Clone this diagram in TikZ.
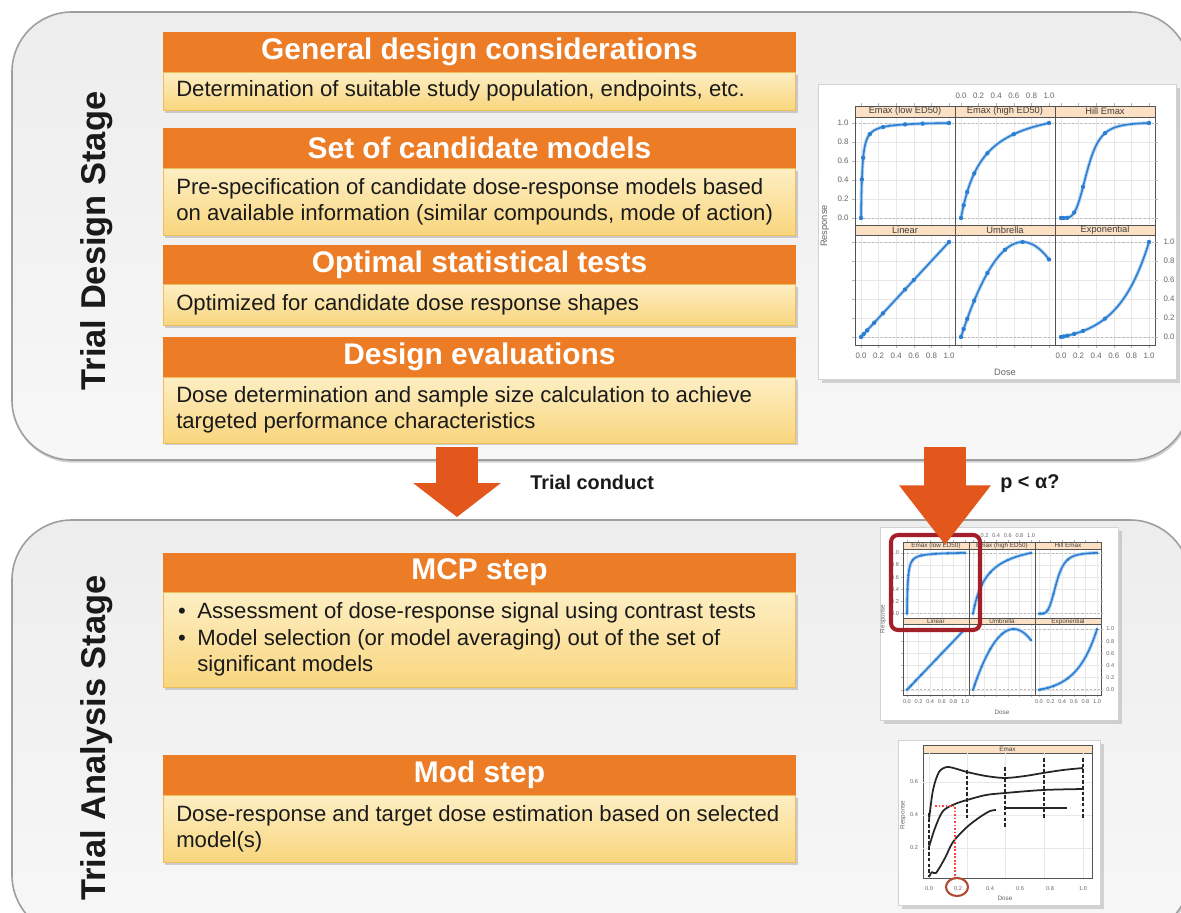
\documentclass[tikz,border=0pt]{standalone}
\usepackage{fontspec}
\setmainfont{Liberation Sans}
\usetikzlibrary{shadows,arrows.meta}
\definecolor{hdrorange}{HTML}{EC7C26}
\definecolor{bodytop}{HTML}{FDEEC3}
\definecolor{bodybot}{HTML}{F9D67E}
\definecolor{bodyedge}{HTML}{EDBF5C}
\definecolor{arrowred}{HTML}{E3561C}
\definecolor{panelline}{HTML}{9E9E9E}
\definecolor{panelTop}{HTML}{EDEDED}
\definecolor{panelBot}{HTML}{F7F7F7}
\definecolor{textdark}{HTML}{1A1A1A}
\definecolor{curveblue}{HTML}{2B7FD2}
\definecolor{stripfill}{HTML}{FCE0C4}
\definecolor{markred}{HTML}{A3202A}
\definecolor{circred}{HTML}{B04A30}

\newcommand\pcurve[4]{%
  \draw[curveglow] plot[domain=0:1,samples=200] ({#1+88*\x},{#2-95*(#3)});
  \draw[curve] plot[domain=0:1,samples=200] ({#1+88*\x},{#2-95*(#3)});
  \foreach \x in {#4} \fill[curveblue] ({#1+88*\x},{#2-95*(#3)}) circle[radius=2.2];
}

\newcommand\lattice[3]{%
  \foreach \c in {0,100,200}{
    \fill[white] (\c,0) rectangle (\c+100,239);
    \fill[stripfill] (\c,0) rectangle (\c+100,11);
    \fill[stripfill] (\c,119) rectangle (\c+100,129);
    \foreach \d in {0,0.2,0.4,0.6,0.8,1}{
      \draw[gridl] (\c+6+88*\d,11) -- (\c+6+88*\d,119);
      \draw[gridl] (\c+6+88*\d,129) -- (\c+6+88*\d,239);
      \draw[tickl] (\c+6+88*\d,0) -- (\c+6+88*\d,-3);
      \draw[tickl] (\c+6+88*\d,239) -- (\c+6+88*\d,242);
    }
    \foreach \r in {0,0.2,0.4,0.6,0.8,1}{
      \draw[gridl] (\c,112-95*\r) -- (\c+100,112-95*\r);
      \draw[gridl] (\c,231-95*\r) -- (\c+100,231-95*\r);
    }
    \foreach \yy in {17,112,136,231} \draw[refl] (\c,\yy) -- (\c+100,\yy);
    \draw[pborder] (\c,0) rectangle (\c+100,239);
    \draw[pborder] (\c,11) -- (\c+100,11);
    \draw[pborder] (\c,119) -- (\c+100,119);
    \draw[pborder] (\c,129) -- (\c+100,129);
  }
  \foreach \r in {0,0.2,0.4,0.6,0.8,1}{
    \draw[tickl] (0,112-95*\r) -- (-3,112-95*\r);
    \draw[tickl] (0,231-95*\r) -- (-3,231-95*\r);
    \draw[tickl] (300,112-95*\r) -- (303,112-95*\r);
    \draw[tickl] (300,231-95*\r) -- (303,231-95*\r);
  }
  \pcurve{6}{112}{\x*1.015/(\x+0.015)}{0,0.01,0.025,0.1,0.25,0.5,0.7,1}
  \pcurve{106}{112}{\x*1.25/(\x+0.25)}{0,0.03,0.07,0.15,0.3,0.6,1}
  \pcurve{206}{112}{\x*\x*\x*\x*1.0081/(\x*\x*\x*\x+0.0081)}{0,0.03,0.07,0.15,0.25,0.5,1}
  \pcurve{6}{231}{\x}{0,0.03,0.07,0.15,0.25,0.5,0.6,1}
  \pcurve{106}{231}{\x*(1.4-\x)/0.49}{0,0.03,0.07,0.15,0.3,0.5,0.7,1}
  \pcurve{206}{231}{(exp(\x/0.35)-1)/(exp(1/0.35)-1)}{0,0.03,0.07,0.15,0.25,0.5,1}
  \node[striptxt,font=#2] (#3s1) at (50,5.5) {Emax (low ED50)};
  \node[striptxt,font=#2] (#3s2) at (150,5.5) {Emax (high ED50)};
  \node[striptxt,font=#2] (#3s3) at (250,5.5) {Hill Emax};
  \node[striptxt,font=#2] (#3s4) at (50,124) {Linear};
  \node[striptxt,font=#2] (#3s5) at (150,124) {Umbrella};
  \node[striptxt,font=#2] (#3s6) at (250,124) {Exponential};
  \foreach \r/\t [count=\i] in {0/0.0,0.2/0.2,0.4/0.4,0.6/0.6,0.8/0.8,1/1.0}{
    \node[ticktxt,font=#1] (#3l\i) at (-12,112-95*\r) {\t};
    \node[ticktxt,font=#1] (#3r\i) at (314,231-95*\r) {\t};
    \node[ticktxt,font=#1] (#3t\i) at (106+88*\r,-10) {\t};
    \node[ticktxt,font=#1] (#3a\i) at (6+88*\r,250) {\t};
    \node[ticktxt,font=#1] (#3b\i) at (206+88*\r,250) {\t};
  }
  \node[ticktxt,font=#2] (#3dose) at (150,266) {Dose};
  \node[ticktxt,font=#2,rotate=90] (#3resp) at (-30,120) {Response};
}

\begin{document}
\begin{tikzpicture}[x=0.02cm,y=-0.02cm,
  panel/.style={draw=panelline,line width=0.9pt,rounded corners=34pt,top color=panelTop,bottom color=panelBot,
    drop shadow={shadow xshift=0.5pt,shadow yshift=-1.5pt,opacity=0.35}},
  hdr/.style={rectangle,fill=hdrorange,text=white,minimum width=360pt,inner sep=0pt,
    font=\fontsize{17pt}{20pt}\selectfont\bfseries},
  bodybox/.style={rectangle,top color=bodytop,bottom color=bodybot,draw=bodyedge,line width=0.4pt,
    minimum width=360pt,inner sep=0pt,drop shadow={shadow xshift=1pt,shadow yshift=-1.5pt,opacity=0.35}},
  bodytxt/.style={anchor=west,align=left,inner sep=0pt,text=textdark,font=\fontsize{12.6pt}{15pt}\selectfont},
  stage/.style={rotate=90,inner sep=0pt,text=textdark,font=\fontsize{19.6pt}{22pt}\selectfont\bfseries},
  lbl/.style={anchor=west,inner sep=0pt,text=textdark,font=\fontsize{11.3pt}{13pt}\selectfont\bfseries},
  bigarrow/.style 2 args={draw=arrowred,line width=23.4pt,-{Triangle[width=#1,length=#2]}},
  plotframe/.style={fill=white,draw=gray!35,line width=0.4pt,drop shadow={shadow xshift=2pt,shadow yshift=-2pt,opacity=0.3}},
  gridl/.style={draw=gray!18,line width=0.25pt},
  tickl/.style={draw=gray!60,line width=0.25pt},
  refl/.style={draw=gray!55,line width=0.4pt,dash pattern=on 1.2pt off 1.2pt},
  pborder/.style={draw=gray!65!black,line width=0.35pt},
  curve/.style={draw=curveblue,line width=0.9pt,line join=round},
  curveglow/.style={draw=curveblue!35,line width=2pt,line join=round},
  striptxt/.style={inner sep=0pt,text=black!75},
  ticktxt/.style={inner sep=0pt,text=black!60},
  blackc/.style={draw=black!85,line width=1pt,line join=round},
  vdash/.style={draw=black!85,line width=1pt,dash pattern=on 2pt off 1.2pt},
  reddot/.style={draw=red!75,line width=0.6pt,dash pattern=on 1pt off 1pt}
]
\useasboundingbox (0,0) rectangle (1181,913);
\clip (0,0) rectangle (1181,913);
\fill[white] (0,0) rectangle (1181,913);

% stage panels
\draw[panel] (12,12) rectangle (1190,460);
\draw[panel] (12,520) rectangle (1190,935);

\node[stage] (s1) at (97,241) {Trial Design Stage};
\node[stage] (s2) at (97,738) {Trial Analysis Stage};

% design stage boxes
\node[bodybox,minimum height=21.5pt] (b1) at (479.5,91) {};
\node[hdr,minimum height=22.7pt] (h1) at (479.5,52) {General design considerations};
\node[bodytxt] (t1) at ([xshift=7.4pt]b1.west) {Determination of suitable study population, endpoints, etc.};

\node[bodybox,minimum height=38pt] (b2) at (479.5,201.5) {};
\node[hdr,minimum height=22.7pt] (h2) at (479.5,148) {Set of candidate models};
\node[bodytxt] (t2) at ([xshift=7.4pt]b2.west) {Pre-specification of candidate dose-response models based\\on available information (similar compounds, mode of action)};

\node[bodybox,minimum height=23.2pt] (b3) at (479.5,304.5) {};
\node[hdr,minimum height=22.2pt] (h3) at (479.5,264.5) {Optimal statistical tests};
\node[bodytxt] (t3) at ([xshift=7.4pt]b3.west) {Optimized for candidate dose response shapes};

\node[bodybox,minimum height=37.4pt] (b4) at (479.5,410) {};
\node[hdr,minimum height=22.7pt] (h4) at (479.5,357) {Design evaluations};
\node[bodytxt] (t4) at ([xshift=7.4pt]b4.west) {Dose determination and sample size calculation to achieve\\targeted performance characteristics};

% analysis stage boxes
\node[bodybox,minimum height=54.4pt] (b5) at (479.5,640) {};
\node[hdr,minimum height=22.2pt] (h5) at (479.5,572.5) {MCP step};
\node[bodytxt] (t5) at ([xshift=8.5pt]b5.west) {\begin{tabular}{@{}l@{\hspace{6.5pt}}l@{}}
•&Assessment of dose-response signal using contrast tests\\
•&Model selection (or model averaging) out of the set of\\
&significant models\end{tabular}};

\node[bodybox,minimum height=38pt] (b6) at (479.5,828.5) {};
\node[hdr,minimum height=22.7pt] (h6) at (479.5,775) {Mod step};
\node[bodytxt] (t6) at ([xshift=7.4pt]b6.west) {Dose-response and target dose estimation based on selected\\model(s)};

% plot 1 (candidate models)
\draw[plotframe] (818,84) rectangle (1176,379);
\begin{scope}[shift={(855,106)}]
  \lattice{\fontsize{4.5pt}{5pt}\selectfont}{\fontsize{5.3pt}{6pt}\selectfont}{pa}
\end{scope}

% plot 2 (MCP)
\draw[plotframe] (880,527) rectangle (1118,720);
\begin{scope}[shift={(903,542)},xscale=0.66,yscale=0.64]
  \lattice{\fontsize{3.2pt}{4pt}\selectfont}{\fontsize{3.6pt}{4pt}\selectfont}{pb}
\end{scope}
\draw[draw=markred,line width=2.3pt,rounded corners=4pt] (891,535) rectangle (980,630);

% plot 3 (Mod)
\draw[plotframe] (898,740) rectangle (1100,905);
\fill[stripfill] (923,745) rectangle (1092,753);
\draw[pborder] (923,745) rectangle (1092,878);
\draw[pborder] (923,753) -- (1092,753);
\node[striptxt,font=\fontsize{3.6pt}{4pt}\selectfont] (pcs) at (1007.5,749) {Emax};
\foreach \xx in {929,967,1005,1044,1083} \draw[gridl] (\xx,753) -- (\xx,878);
\foreach \yy in {782,815,848} \draw[gridl] (923,\yy) -- (1092,\yy);
\draw[blackc] plot[smooth] coordinates {(929,820) (933,790) (939,772) (947,767) (957,769) (967,772) (986,776) (1005,778) (1025,776) (1043,773) (1063,770) (1083,768)};
\draw[blackc] plot[smooth] coordinates {(929,847) (935,828) (943,811) (955,804) (967,800) (986,795) (1005,793) (1043,790) (1083,789)};
\draw[blackc] plot[smooth] coordinates {(929,877) (932,872) (936,873) (945,858) (953,842) (967,827) (980,817) (990,811) (996,810)};
\draw[blackc] (1005,808) -- (1067,808);
\draw[vdash] (929,813) -- (929,877);
\draw[vdash] (967,770) -- (967,820);
\draw[vdash] (1005,767) -- (1005,827);
\draw[vdash] (1044,758) -- (1044,818);
\draw[vdash] (1083,758) -- (1083,818);
\draw[reddot] (935,806) -- (955,806) -- (955,878);
\foreach \xx/\t [count=\i] in {929/0.0,958/0.2,990/0.4,1020/0.6,1050/0.8,1083/1.0}
  \node[ticktxt,font=\fontsize{3.2pt}{4pt}\selectfont] (pcx\i) at (\xx,889) {\t};
\foreach \yy/\t [count=\i] in {782/0.6,815/0.4,848/0.2}
  \node[ticktxt,font=\fontsize{3.2pt}{4pt}\selectfont] (pcy\i) at (914,\yy) {\t};
\node[ticktxt,font=\fontsize{3.6pt}{4pt}\selectfont] (pcdose) at (1005,898) {Dose};
\node[ticktxt,font=\fontsize{3.6pt}{4pt}\selectfont,rotate=90] (pcresp) at (903,815) {Response};
\draw[draw=circred,line width=1.2pt] (957,887) ellipse[x radius=11,y radius=9];

% arrows between stages
\coordinate (a1s) at (457,447);
\coordinate (a1e) at (457,517);
\coordinate (a2s) at (945,447);
\coordinate (a2e) at (945,545);
\draw[bigarrow={48.8pt}{19.3pt}] (a1s) -- (a1e);
\draw[bigarrow={50pt}{34pt}] (a2s) -- (a2e);
\node[lbl] (tc) at (530,482) {Trial conduct};
\node[lbl] (pa) at (1000,484) {p < α?};
\end{tikzpicture}
\end{document}
